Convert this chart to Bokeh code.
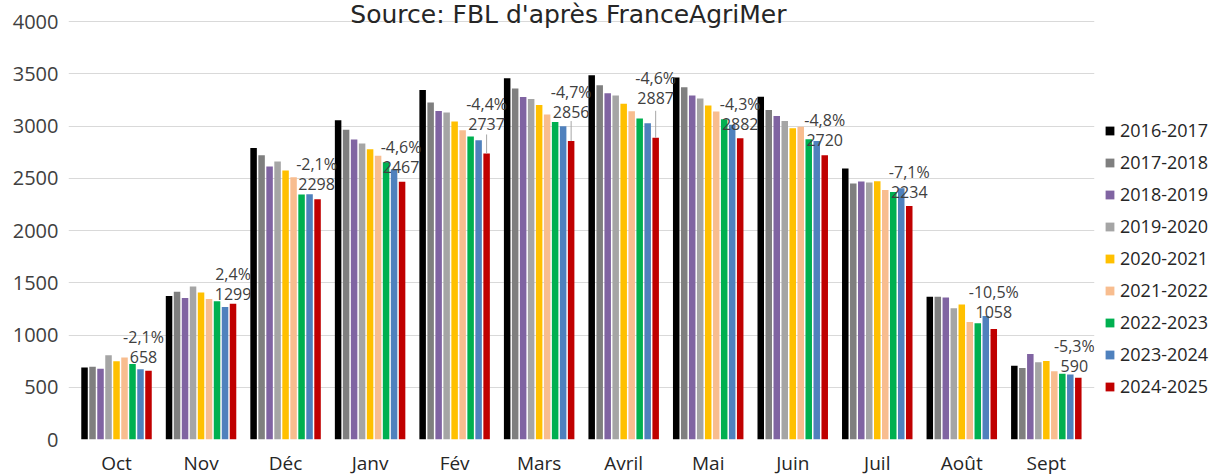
from bokeh.plotting import figure
from bokeh.models import (ColumnDataSource, Range1d, FixedTicker, Legend, LegendItem, Label)
from bokeh.embed import file_html
from bokeh.resources import INLINE

months = ["Oct", "Nov", "Déc", "Janv", "Fév", "Mars", "Avril", "Mai", "Juin", "Juil", "Août", "Sept"]
seasons = ["2016-2017", "2017-2018", "2018-2019", "2019-2020", "2020-2021",
           "2021-2022", "2022-2023", "2023-2024", "2024-2025"]

s2016_2017 = [690, 1374, 2790, 3054, 3344, 3456, 3485, 3463, 3281, 2593, 1365, 705]
s2017_2018 = [697, 1413, 2719, 2964, 3224, 3358, 3389, 3370, 3153, 2449, 1365, 684]
s2018_2019 = [678, 1355, 2613, 2870, 3143, 3277, 3313, 3293, 3096, 2468, 1359, 819]
s2019_2020 = [806, 1464, 2661, 2832, 3128, 3258, 3293, 3262, 3048, 2459, 1256, 739]
s2020_2021 = [748, 1406, 2574, 2778, 3042, 3201, 3214, 3195, 2978, 2471, 1291, 752]
s2021_2022 = [784, 1345, 2510, 2716, 2959, 3109, 3141, 3138, 2994, 2388, 1125, 653]
s2022_2023 = [722, 1322, 2345, 2652, 2899, 3038, 3071, 3064, 2873, 2369, 1112, 628]
s2023_2024 = [672, 1269, 2347, 2586, 2863, 2997, 3026, 3011, 2857, 2405, 1182, 623]
s2024_2025 = [658, 1299, 2298, 2467, 2737, 2856, 2887, 2882, 2720, 2234, 1058, 590]

pct_labels = ["-2,1%", "2,4%", "-2,1%", "-4,6%", "-4,4%", "-4,7%", "-4,6%",
              "-4,3%", "-4,8%", "-7,1%", "-10,5%", "-5,3%"]

y_ticks = [0, 500, 1000, 1500, 2000, 2500, 3000, 3500, 4000]

series = [s2016_2017, s2017_2018, s2018_2019, s2019_2020, s2020_2021,
          s2021_2022, s2022_2023, s2023_2024, s2024_2025]
colors = ["#000000", "#7f7f7f", "#8064a2", "#a5a5a5", "#ffc000",
          "#f8bd8f", "#00b050", "#4f81bd", "#c00000"]

# layout / style parameters (pixels)
label_lift = [14, 10, 15, 15, 29, 29, 40, 14, 15, 14, 17, 12]
label_dx = [-5, 0, -1, -1, 0, 0, 0, 0, 0, 0, 0, -4]
leader_px = [0, 0, 0, 0, 19, 20, 27, 0, 0, 0, 0, 0]

FONT = "Open Sans"
PX_PER_UNIT = 84.55
X_START, X_END = -0.068, 12.07
FRAME_W = int(round((X_END - X_START) * PX_PER_UNIT))
PLOT_H = 418          # pixels between 0 and 4000
TOP_PAD = 21          # pixels above the 4000 gridline (title area)
Y_MAX = 4000
units_per_px = Y_MAX / PLOT_H

p = figure(frame_width=FRAME_W, frame_height=PLOT_H + TOP_PAD,
           x_range=Range1d(X_START, X_END),
           y_range=Range1d(0, Y_MAX + TOP_PAD * units_per_px),
           output_backend="svg", toolbar_location=None,
           min_border_left=68, min_border_top=0, min_border_right=0,
           min_border_bottom=0)
p.outline_line_color = None
p.background_fill_color = "white"
p.border_fill_color = "white"

step = 0.0946
bar_w = 0.077
renderers = []
for i, (vals, col) in enumerate(zip(series, colors)):
    xs = [m + 0.5 + (i - 4) * step for m in range(len(months))]
    src = ColumnDataSource(dict(x=xs, top=vals))
    r = p.vbar(x="x", top="top", width=bar_w, source=src, fill_color=col, line_color=None)
    renderers.append(r)

# leader lines
red_x = [m + 0.5 + 4 * step for m in range(len(months))]
lx, ly0, ly1 = [], [], []
for m in range(len(months)):
    if leader_px[m] > 0:
        lx.append(red_x[m])
        ly0.append(s2024_2025[m])
        ly1.append(s2024_2025[m] + leader_px[m] * units_per_px)
p.segment(x0=lx, y0=ly0, x1=lx, y1=ly1, line_color="#a6a6a6", line_width=1)

# value labels (two lines each)
for m in range(len(months)):
    for txt, lift in ((pct_labels[m], label_lift[m] + 20), (str(s2024_2025[m]), label_lift[m])):
        p.add_layout(Label(x=red_x[m], y=s2024_2025[m], text=txt,
                           x_offset=label_dx[m], y_offset=lift,
                           text_align="center", text_baseline="middle",
                           text_font=FONT, text_font_size="16px", text_color="#404040"))

# title
p.add_layout(Label(x=5.846, y=Y_MAX + 7 * units_per_px, text="Source: FBL d'après FranceAgriMer",
                   text_align="center", text_baseline="middle",
                   text_font="DejaVu Sans", text_font_size="25px", text_color="#262626"))

# axes
p.xaxis.ticker = FixedTicker(ticks=[m + 0.5 for m in range(len(months))])
p.xaxis.major_label_overrides = {m + 0.5: name for m, name in enumerate(months)}
p.xaxis.axis_line_color = None
p.xaxis.major_tick_line_color = None
p.xaxis.major_tick_out = 0
p.xaxis.major_tick_in = 0
p.xaxis.minor_tick_line_color = None
p.xaxis.major_label_standoff = 10
p.xaxis.major_label_text_font = FONT
p.xaxis.major_label_text_font_size = "19px"
p.xaxis.major_label_text_color = "#262626"

p.yaxis.ticker = FixedTicker(ticks=y_ticks)
p.yaxis.axis_line_color = None
p.yaxis.major_tick_line_color = None
p.yaxis.major_tick_out = 0
p.yaxis.major_tick_in = 0
p.yaxis.minor_tick_line_color = None
p.yaxis.major_label_standoff = 10
p.yaxis.major_label_text_font = FONT
p.yaxis.major_label_text_font_size = "20px"
p.yaxis.major_label_text_color = "#404040"

p.xgrid.grid_line_color = None
p.ygrid.ticker = FixedTicker(ticks=y_ticks)
p.ygrid.grid_line_color = "#d9d9d9"
p.ygrid.grid_line_width = 1

legend = Legend(items=[LegendItem(label=s, renderers=[r]) for s, r in zip(seasons, renderers)],
                location=(10, 41), orientation="vertical",
                glyph_width=11, glyph_height=11, label_standoff=5,
                label_height=24, spacing=8, padding=0, margin=0,
                label_text_font=FONT, label_text_font_size="18px", label_text_color="#262626",
                border_line_color=None, background_fill_alpha=0)
p.add_layout(legend, "right")

open("out.html", "w").write(file_html(p, INLINE))
